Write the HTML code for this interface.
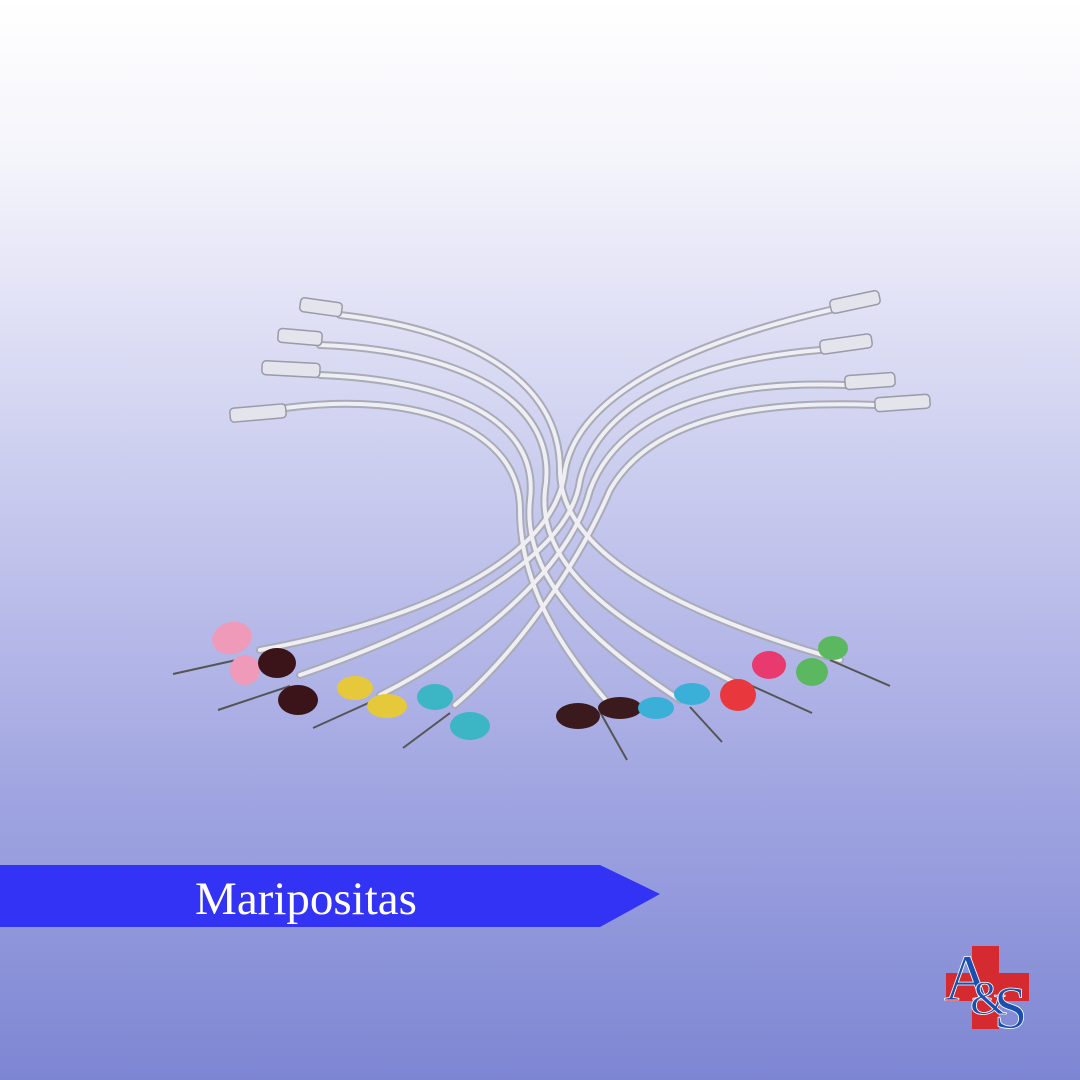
<!DOCTYPE html>
<html><head><meta charset="utf-8"><style>
html,body{margin:0;padding:0;width:1080px;height:1080px;overflow:hidden}
</style></head><body>
<svg width="1080" height="1080" viewBox="0 0 1080 1080" xmlns="http://www.w3.org/2000/svg">
<defs>
<linearGradient id="bg" x1="0" y1="0" x2="0" y2="1">
<stop offset="0" stop-color="#ffffff"/>
<stop offset="0.15" stop-color="#f4f4fb"/>
<stop offset="0.45" stop-color="#c9cbee"/>
<stop offset="0.75" stop-color="#9ea3e0"/>
<stop offset="1" stop-color="#7d86d3"/>
</linearGradient>
</defs>
<rect width="1080" height="1080" fill="url(#bg)"/>
<g fill="none" stroke-linecap="round">
<g stroke="#a9abb8" stroke-width="8">
<path d="M340 315 C470 330 560 380 560 470 C560 560 700 620 840 660"/>
<path d="M320 345 C460 350 560 400 545 490 C535 580 650 640 740 685"/>
<path d="M320 375 C450 380 540 420 530 500 C520 590 620 660 680 700"/>
<path d="M285 408 C420 390 520 430 520 510 C520 600 580 670 610 705"/>
<path d="M830 310 C700 340 580 390 565 470 C555 560 420 620 260 650"/>
<path d="M820 350 C700 360 600 400 580 480 C570 560 430 630 300 675"/>
<path d="M845 385 C720 380 620 410 590 490 C570 570 470 650 380 695"/>
<path d="M875 405 C750 400 650 420 610 490 C580 560 520 650 455 705"/>
</g>
<g stroke="#eeeef3" stroke-width="4">
<path d="M340 315 C470 330 560 380 560 470 C560 560 700 620 840 660"/>
<path d="M320 345 C460 350 560 400 545 490 C535 580 650 640 740 685"/>
<path d="M320 375 C450 380 540 420 530 500 C520 590 620 660 680 700"/>
<path d="M285 408 C420 390 520 430 520 510 C520 600 580 670 610 705"/>
<path d="M830 310 C700 340 580 390 565 470 C555 560 420 620 260 650"/>
<path d="M820 350 C700 360 600 400 580 480 C570 560 430 630 300 675"/>
<path d="M845 385 C720 380 620 410 590 490 C570 570 470 650 380 695"/>
<path d="M875 405 C750 400 650 420 610 490 C580 560 520 650 455 705"/>
</g>
</g>
<g fill="#e4e4ec" stroke="#9a9aa8" stroke-width="1.5">
<rect x="300" y="300" width="42" height="14" rx="4" transform="rotate(8 320 307)"/>
<rect x="278" y="330" width="44" height="14" rx="4" transform="rotate(5 300 337)"/>
<rect x="262" y="362" width="58" height="14" rx="4" transform="rotate(3 290 369)"/>
<rect x="230" y="406" width="56" height="14" rx="4" transform="rotate(-5 258 413)"/>
<rect x="830" y="295" width="50" height="14" rx="4" transform="rotate(-12 855 302)"/>
<rect x="820" y="337" width="52" height="14" rx="4" transform="rotate(-8 846 344)"/>
<rect x="845" y="374" width="50" height="14" rx="4" transform="rotate(-4 870 381)"/>
<rect x="875" y="396" width="55" height="14" rx="4" transform="rotate(-4 902 403)"/>
</g>
<g stroke="#555" stroke-width="2">
<line x1="250" y1="657" x2="173" y2="674"/>
<line x1="290" y1="686" x2="218" y2="710"/>
<line x1="375" y1="700" x2="313" y2="728"/>
<line x1="450" y1="713" x2="403" y2="748"/>
<line x1="600" y1="712" x2="627" y2="760"/>
<line x1="690" y1="707" x2="722" y2="742"/>
<line x1="750" y1="685" x2="812" y2="713"/>
<line x1="830" y1="660" x2="890" y2="686"/>
</g>
<g>
<g fill="#ef9ab8"><ellipse cx="232" cy="638" rx="20" ry="16" transform="rotate(-15 232 638)"/><ellipse cx="245" cy="670" rx="15" ry="15"/></g>
<g fill="#3a1418"><ellipse cx="277" cy="663" rx="19" ry="15"/><ellipse cx="298" cy="700" rx="20" ry="15"/></g>
<g fill="#e6c93a"><ellipse cx="355" cy="688" rx="18" ry="12"/><ellipse cx="387" cy="706" rx="20" ry="12"/></g>
<g fill="#3cb5c4"><ellipse cx="435" cy="697" rx="18" ry="13"/><ellipse cx="470" cy="726" rx="20" ry="14"/></g>
<g fill="#3a1a1c"><ellipse cx="578" cy="716" rx="22" ry="13"/><ellipse cx="620" cy="708" rx="22" ry="11"/></g>
<g fill="#3aafd8"><ellipse cx="656" cy="708" rx="18" ry="11"/><ellipse cx="692" cy="694" rx="18" ry="11"/></g>
<g fill="#e8383e"><ellipse cx="738" cy="695" rx="18" ry="16"/><ellipse cx="769" cy="665" rx="17" ry="14" fill="#e83a6e"/></g>
<g fill="#5cb860"><ellipse cx="812" cy="672" rx="16" ry="14"/><ellipse cx="833" cy="648" rx="15" ry="12"/></g>
</g>
<polygon points="0,865 600,865 660,894 600,927 0,927" fill="#3333f6"/>
<text x="306" y="914" text-anchor="middle" font-family="Liberation Serif, serif" font-size="47" fill="#ffffff">Maripositas</text>
<rect x="972" y="946" width="27" height="83" fill="#d42a30"/>
<rect x="946" y="973" width="83" height="28" fill="#d42a30"/>
<text x="944" y="1000" font-family="Liberation Serif, serif" font-size="66" fill="#1a4fb0" stroke="#fff" stroke-width="0.8">A</text>
<text x="970" y="1014" font-family="Liberation Serif, serif" font-size="48" fill="#1a4fb0" stroke="#fff" stroke-width="0.8">&amp;</text>
<text x="994" y="1028" font-family="Liberation Serif, serif" font-size="60" fill="#1a4fb0" stroke="#fff" stroke-width="0.8">S</text>
</svg>
</body></html>
